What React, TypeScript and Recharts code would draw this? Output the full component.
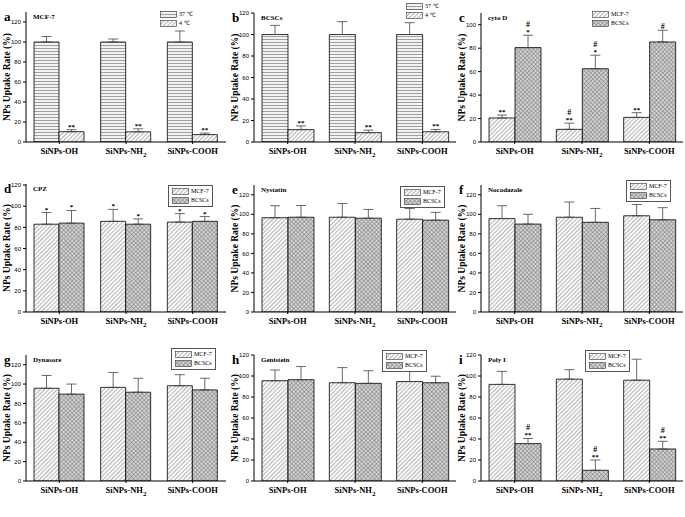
import React from "react";
import { BarChart, Bar, XAxis, YAxis, ErrorBar, LabelList, Legend } from "recharts";

// category tick labels
const categories = ["SiNPs-OH", "SiNPs-NH₂", "SiNPs-COOH"];
const tempNames = ["37 ℃", "4 ℃"];
const cellNames = ["MCF-7", "BCSCs"];
const yTicks120 = [0, 20, 40, 60, 80, 100, 120];
const yTicks100 = [0, 20, 40, 60, 80, 100];

// a: MCF-7, 37 vs 4 C
const a37 = [100, 100, 100];
const a37Err = [5.5, 3, 11];
const a4 = [10.3, 10.2, 7.4];
const a4Err = [2, 3, 1.5];
const a4Mark = ["**", "**", "**"];

// b: BCSCs, 37 vs 4 C
const b37 = [100, 100, 100];
const b37Err = [8.5, 12, 11];
const b4 = [11.5, 8.7, 9.5];
const b4Err = [3.5, 2.3, 2.2];
const b4Mark = ["**", "**", "**"];

// c: cyto D
const cMcf = [20.5, 10.8, 21];
const cMcfErr = [2.5, 5.3, 4];
const cMcfMark = ["**", "#|**", "**"];
const cBcsc = [80.5, 62.5, 85.3];
const cBcscErr = [10.5, 11.5, 10];
const cBcscMark = ["#|*", "#|*", "#"];

// d: CPZ
const dMcf = [83, 85.7, 85];
const dMcfErr = [11, 11.3, 8];
const dMcfMark = ["*", "*", "*"];
const dBcsc = [84, 83, 85.7];
const dBcscErr = [12, 5, 4.5];
const dBcscMark = ["*", "*", "*"];

// e: Nystatin
const eMcf = [96.5, 97, 95];
const eMcfErr = [12.3, 14, 11];
const eBcsc = [97, 96, 94];
const eBcscErr = [12, 9, 8];

// f: Nocodazole
const fMcf = [95.6, 97, 98.5];
const fMcfErr = [13.2, 15.6, 11.5];
const fBcsc = [90, 91.8, 94.4];
const fBcscErr = [10, 14.2, 12.4];

// g: Dynasore
const gMcf = [95.7, 96.6, 98.3];
const gMcfErr = [13.2, 15.4, 11.4];
const gBcsc = [89.6, 91.6, 94];
const gBcscErr = [10.4, 14.4, 12];

// h: Genistein
const hMcf = [95.5, 93.6, 94.7];
const hMcfErr = [10.2, 14.4, 9.7];
const hBcsc = [96.5, 93, 93.6];
const hBcscErr = [12.5, 12, 6.2];

// i: Poly I
const iMcf = [92, 97, 96];
const iMcfErr = [12.4, 9, 20];
const iBcsc = [35.6, 10.2, 30.5];
const iBcscErr = [4.9, 9.8, 7.3];
const iBcscMark = ["#|**", "#|**", "#|**"];

const none = ["", "", ""];
const serif = "'Liberation Serif', 'Times New Roman', serif";
const sans = "'Liberation Sans', Arial, sans-serif";

function Patterns() {
  return (
    <svg width={0} height={0} style={{ position: "absolute" }}>
      <defs>
        <pattern id="hline" width="3" height="3" patternUnits="userSpaceOnUse">
          <rect width="3" height="3" fill="#f2f2f2" />
          <line x1="0" y1="0.5" x2="3" y2="0.5" stroke="#8a8a8a" strokeWidth="0.8" />
        </pattern>
        <pattern id="diag" width="3" height="3" patternUnits="userSpaceOnUse" patternTransform="rotate(45)">
          <rect width="3" height="3" fill="#fafafa" />
          <line x1="0.5" y1="0" x2="0.5" y2="3" stroke="#9a9a9a" strokeWidth="0.7" />
        </pattern>
        <pattern id="cross" width="3" height="3" patternUnits="userSpaceOnUse" patternTransform="rotate(45)">
          <rect width="3" height="3" fill="#d6d6d6" />
          <line x1="0.5" y1="0" x2="0.5" y2="3" stroke="#8a8a8a" strokeWidth="0.7" />
          <line x1="0" y1="0.5" x2="3" y2="0.5" stroke="#8a8a8a" strokeWidth="0.7" />
        </pattern>
      </defs>
    </svg>
  );
}

const CatTick = (props: any) => {
  const { x, y, payload } = props;
  const parts = String(payload.value).split("₂");
  return (
    <text x={x} y={y + 8} textAnchor="middle" fontFamily={serif} fontWeight="bold" fontSize={8.5} fill="#000">
      {parts[0]}
      {parts.length > 1 && (
        <tspan fontSize={7} dy={2.5}>
          2
        </tspan>
      )}
    </text>
  );
};

interface PanelProps {
  letter: string;
  title: string;
  left: number;
  top: number;
  width: number;
  plotTop: number;
  plotBottom: number;
  yMax: number;
  ticks: number[];
  names: string[];
  fills: string[];
  s1: number[];
  s1Err: number[];
  s1Mark: string[];
  s2: number[];
  s2Err: number[];
  s2Mark: string[];
  legendX: number;
  legendY: number;
  boxed: boolean;
}

function Panel(p: PanelProps) {
  const rows = categories.map((c, i) => ({
    name: c,
    v1: p.s1[i],
    e1: [0, p.s1Err[i]],
    m1: p.s1Mark[i],
    v2: p.s2[i],
    e2: [0, p.s2Err[i]],
    m2: p.s2Mark[i],
  }));

  const markContent = (vals: number[], errs: number[]) => (lp: any) => {
    const { x, y, width, height, value, index } = lp;
    if (!value) return null;
    const ppu = height / vals[index];
    const top = y - errs[index] * ppu;
    const lines = String(value).split("|").reverse();
    return (
      <g>
        {lines.map((t, k) => (
          <text
            key={k}
            x={x + width / 2}
            y={top - 1 - k * 7}
            textAnchor="middle"
            fontFamily={serif}
            fontWeight="bold"
            fontSize={t === "#" ? 8 : 7}
            fill="#000"
          >
            {t}
          </text>
        ))}
      </g>
    );
  };

  const legendContent = () => (
    <div
      style={{
        border: p.boxed ? "0.8px solid #555" : "none",
        padding: p.boxed ? "1px 3px" : 0,
        background: "#fff",
        lineHeight: "9px",
      }}
    >
      {p.names.map((n, k) => (
        <div key={n} style={{ display: "flex", alignItems: "center", height: 9 }}>
          <svg width={17} height={7}>
            <rect x={0.5} y={0.5} width={16} height={6} fill={`url(#${p.fills[k]})`} stroke="#333" strokeWidth={0.6} />
          </svg>
          <span style={{ fontFamily: serif, fontSize: 6, marginLeft: 2, color: "#000", whiteSpace: "nowrap" }}>{n}</span>
        </div>
      ))}
    </div>
  );

  const height = p.plotBottom - p.top + 16;

  return (
    <div style={{ position: "absolute", left: p.left, top: p.top, width: p.width, height }}>
      <BarChart
        width={p.width}
        height={height}
        data={rows}
        margin={{ top: p.plotTop - p.top, right: 2, left: 0, bottom: 0 }}
        barCategoryGap={8}
        barGap={0}
      >
        <XAxis
          dataKey="name"
          height={16}
          tick={<CatTick />}
          tickSize={2}
          axisLine={{ stroke: "#000", strokeWidth: 1 }}
          tickLine={{ stroke: "#000" }}
          interval={0}
        />
        <YAxis
          width={26}
          domain={[0, p.yMax]}
          ticks={p.ticks}
          allowDataOverflow
          tickSize={3}
          axisLine={{ stroke: "#000", strokeWidth: 1 }}
          tickLine={{ stroke: "#000" }}
          tick={{ fontFamily: sans, fontSize: 6, fill: "#000" }}
          label={{
            content: (lp: any) => {
              const vb = lp.viewBox;
              const cx = vb.x + 8;
              const cy = vb.y + vb.height / 2;
              return (
                <text
                  x={cx}
                  y={cy}
                  transform={`rotate(-90, ${cx}, ${cy})`}
                  textAnchor="middle"
                  dominantBaseline="middle"
                  fontFamily={serif}
                  fontWeight="bold"
                  fontSize={9.5}
                  fill="#000"
                >
                  NPs Uptake Rate (%)
                </text>
              );
            },
          }}
        />
        <Legend
          content={legendContent}
          wrapperStyle={{ position: "absolute", left: p.legendX, top: p.legendY, width: "auto", right: "auto", bottom: "auto" }}
        />
        <Bar dataKey="v1" name={p.names[0]} fill={`url(#${p.fills[0]})`} stroke="#000" strokeWidth={0.8} isAnimationActive={false}>
          <ErrorBar dataKey="e1" width={5} stroke="#444" strokeWidth={0.8} />
          <LabelList dataKey="m1" content={markContent(p.s1, p.s1Err)} />
        </Bar>
        <Bar dataKey="v2" name={p.names[1]} fill={`url(#${p.fills[1]})`} stroke="#000" strokeWidth={0.8} isAnimationActive={false}>
          <ErrorBar dataKey="e2" width={5} stroke="#444" strokeWidth={0.8} />
          <LabelList dataKey="m2" content={markContent(p.s2, p.s2Err)} />
        </Bar>
      </BarChart>
      <div
        style={{
          position: "absolute",
          left: 4,
          top: p.plotTop - p.top - 2,
          fontFamily: serif,
          fontWeight: "bold",
          fontSize: 13,
          lineHeight: "13px",
        }}
      >
        {p.letter}
      </div>
      <div
        style={{
          position: "absolute",
          left: 33,
          top: p.plotTop - p.top + 1,
          fontFamily: serif,
          fontWeight: "bold",
          fontSize: 7,
          lineHeight: "8px",
          whiteSpace: "nowrap",
        }}
      >
        {p.title}
      </div>
    </div>
  );
}

export default function App() {
  const cellFills = ["diag", "cross"];
  const tempFills = ["hline", "diag"];
  return (
    <div style={{ position: "absolute", left: 0, top: 0, width: 685, height: 517, background: "#fff", overflow: "hidden" }}>
      <Patterns />
      <Panel letter="a" title="MCF-7" left={0} top={0} width={228} plotTop={12} plotBottom={160} yMax={130} ticks={yTicks120}
        names={tempNames} fills={tempFills} s1={a37} s1Err={a37Err} s1Mark={none} s2={a4} s2Err={a4Err} s2Mark={a4Mark}
        legendX={160} legendY={10} boxed={false} />
      <Panel letter="b" title="BCSCs" left={228} top={0} width={230} plotTop={13} plotBottom={160} yMax={120} ticks={yTicks120}
        names={tempNames} fills={tempFills} s1={b37} s1Err={b37Err} s1Mark={none} s2={b4} s2Err={b4Err} s2Mark={b4Mark}
        legendX={178} legendY={2} boxed={false} />
      <Panel letter="c" title="cyto D" left={455} top={0} width={230} plotTop={13} plotBottom={160} yMax={110} ticks={yTicks100}
        names={cellNames} fills={cellFills} s1={cMcf} s1Err={cMcfErr} s1Mark={cMcfMark} s2={cBcsc} s2Err={cBcscErr} s2Mark={cBcscMark}
        legendX={137} legendY={10} boxed={false} />
      <Panel letter="d" title="CPZ" left={0} top={170} width={228} plotTop={184} plotBottom={334} yMax={121} ticks={yTicks120}
        names={cellNames} fills={cellFills} s1={dMcf} s1Err={dMcfErr} s1Mark={dMcfMark} s2={dBcsc} s2Err={dBcscErr} s2Mark={dBcscMark}
        legendX={168} legendY={15} boxed={true} />
      <Panel letter="e" title="Nystatin" left={228} top={170} width={230} plotTop={185} plotBottom={334} yMax={130} ticks={yTicks120}
        names={cellNames} fills={cellFills} s1={eMcf} s1Err={eMcfErr} s1Mark={none} s2={eBcsc} s2Err={eBcscErr} s2Mark={none}
        legendX={172} legendY={16} boxed={true} />
      <Panel letter="f" title="Nocodazole" left={455} top={170} width={230} plotTop={185} plotBottom={334} yMax={130} ticks={yTicks120}
        names={cellNames} fills={cellFills} s1={fMcf} s1Err={fMcfErr} s1Mark={none} s2={fBcsc} s2Err={fBcscErr} s2Mark={none}
        legendX={171} legendY={10} boxed={true} />
      <Panel letter="g" title="Dynasore" left={0} top={340} width={228} plotTop={355} plotBottom={503} yMax={130} ticks={yTicks120}
        names={cellNames} fills={cellFills} s1={gMcf} s1Err={gMcfErr} s1Mark={none} s2={gBcsc} s2Err={gBcscErr} s2Mark={none}
        legendX={171} legendY={8} boxed={true} />
      <Panel letter="h" title="Genistein" left={228} top={340} width={230} plotTop={355} plotBottom={503} yMax={120} ticks={yTicks120}
        names={cellNames} fills={cellFills} s1={hMcf} s1Err={hMcfErr} s1Mark={none} s2={hBcsc} s2Err={hBcscErr} s2Mark={none}
        legendX={154} legendY={10} boxed={true} />
      <Panel letter="i" title="Poly I" left={455} top={340} width={230} plotTop={355} plotBottom={503} yMax={120} ticks={yTicks120}
        names={cellNames} fills={cellFills} s1={iMcf} s1Err={iMcfErr} s1Mark={none} s2={iBcsc} s2Err={iBcscErr} s2Mark={iBcscMark}
        legendX={130} legendY={10} boxed={true} />
    </div>
  );
}
